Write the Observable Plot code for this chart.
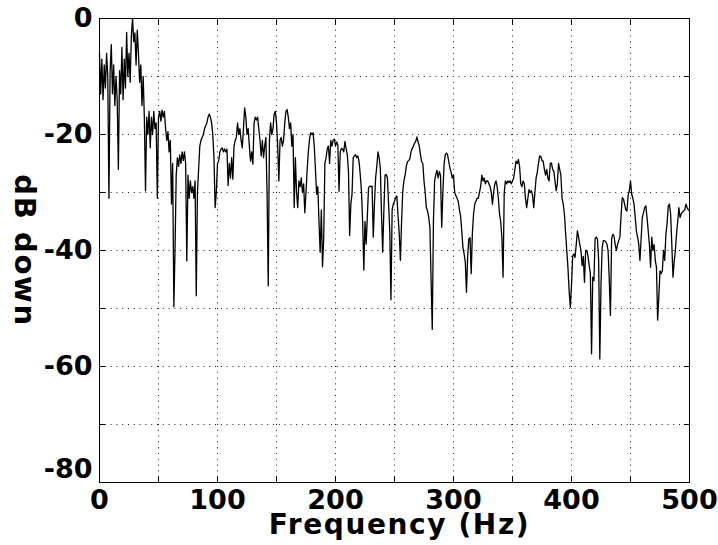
<!DOCTYPE html>
<html><head><meta charset="utf-8">
<script src="https://cdn.jsdelivr.net/npm/d3@7"></script>
<script src="https://cdn.jsdelivr.net/npm/@observablehq/plot@0.6"></script>
<style>
body{margin:0;background:#fff}
.axis-title text{letter-spacing:1.6px}
</style>
</head><body><div id="chart"></div>
<script>
// Spectrum sampled every 1 Hz from 0 to 500 Hz (values in dB)
const freqStepHz = 1;
const levelDb = [
  -6, -13, -7, -14, -8, -12, -6, -10, -31, -9,
  -4.5, -13, -8, -15, -10, -14, -26, -9, -13, -5,
  -14, -7, -12, -2.4, -10, -6, -11, -3, 0, -4,
  -2.5, -8, -2, -6, -11, -8, -15, -10, -17, -29.7,
  -17, -20, -16, -22.3, -17, -20, -16, -19, -18, -31,
  -17, -16, -17.7, -15.8, -17, -16, -19, -21, -19.5, -23,
  -21, -32, -25, -49.7, -40, -27, -24, -25.5, -23.5, -25,
  -23, -24.5, -23, -25, -41.8, -27, -31, -28, -30, -29,
  -31, -28, -47.8, -30, -26, -22, -21, -20.5, -20, -19,
  -18.5, -18, -17, -16.5, -17, -18, -20, -24, -32.6, -30,
  -25, -24.6, -23, -22.5, -22.3, -23, -22.5, -23, -22.5, -28.8,
  -25, -27.5, -24, -27.7, -22, -21, -20.5, -18, -20, -19,
  -21, -22.3, -19, -15.4, -17, -20, -19, -22, -24.6, -23,
  -25.1, -18, -17, -17.5, -17, -19, -21, -23.7, -21, -24,
  -22, -20.5, -30, -46.1, -21, -18, -20, -19, -16.5, -16,
  -18, -22, -28, -21, -20.5, -22, -21, -18, -16, -15.7,
  -17, -19, -18, -22, -20, -32.6, -24, -30, -32.6, -28,
  -29, -27.5, -30, -28.5, -33.5, -30, -26, -23, -20.8, -19.7,
  -20, -19.7, -22, -26, -30.3, -29, -35, -40.3, -33, -42.8,
  -38, -25, -24, -22.5, -22, -25, -21, -22, -21, -20.8,
  -22, -21.3, -21.8, -29.8, -23, -22.4, -22.5, -23, -21.2, -22.4,
  -23.5, -26.4, -37.4, -32, -30.3, -24, -23.7, -23.5, -24, -23.7,
  -24.7, -27, -29.8, -35, -43.4, -35, -38.9, -34, -29.2, -28.9,
  -29, -28.9, -37.7, -32, -27.5, -25.5, -23, -24, -25.8, -33.8,
  -40.3, -33, -27, -26.9, -27.5, -32, -36.6, -48.5, -33, -32,
  -31.5, -30.9, -30.6, -34, -37, -41.7, -35, -29.8, -28, -27,
  -25.5, -24.7, -24.5, -24.2, -23, -22.4, -22, -21.5, -21.2, -20.4,
  -21.3, -22, -23.5, -24.7, -25, -28, -30, -32.6, -33.2, -34.3,
  -36, -45, -53.6, -35, -28, -26.9, -26.2, -27.5, -26.4, -27,
  -36, -30, -25.2, -23.5, -23.2, -23.5, -24.7, -25.8, -26.5, -27.5,
  -27, -30, -30.5, -31, -31.5, -33, -34, -36.6, -39.5, -40.6,
  -42, -47.2, -41, -38, -37.8, -44, -37, -33.7, -32, -31.5,
  -31, -31, -30, -29, -27, -28, -27.5, -28.5, -28, -28,
  -28.5, -29, -30, -32, -30, -28.5, -28, -29, -31, -33.7,
  -35, -37.8, -44.6, -30, -28, -28.5, -28, -28.3, -28, -28.5,
  -28, -27.5, -26, -24.6, -25, -24.3, -25.5, -28.5, -29, -28,
  -28.5, -31, -32.6, -31, -29.5, -30, -29.7, -30.5, -32.6, -30,
  -27.5, -26.5, -25, -23.7, -23.8, -24.5, -24.6, -26, -27, -26,
  -27.5, -28, -25, -24.9, -26, -26.3, -28, -29.7, -28.5, -25,
  -26, -27, -31, -32, -33.7, -37, -40, -43, -47, -49.8,
  -46, -41, -40.6, -41.2, -39, -36.6, -37.7, -38.9, -40, -42.6,
  -41, -45.5, -40, -40, -41, -42.6, -44, -57.8, -44.6, -45.2,
  -38, -37.7, -38, -41.7, -58.7, -45.8, -39.5, -38.3, -38.3, -38.5,
  -38.9, -40, -45, -51.2, -38, -37.2, -37.5, -38.9, -40, -39,
  -38.3, -37.7, -34, -30.9, -31.1, -32, -33, -33.2, -30.5, -29.7,
  -28, -30.3, -31, -32, -34.3, -36.6, -37.7, -38.9, -41.7, -38,
  -34.3, -33.5, -32.6, -32.3, -34.3, -36.6, -38.9, -42.9, -37.7, -40,
  -39, -41.7, -42.9, -52, -48, -43.5, -44, -43.5, -40, -41.7,
  -37.2, -35.4, -32.3, -32, -33.7, -38.9, -44.6, -42, -40, -37.2,
  -35, -32.6, -34.3, -33.7, -33.4, -33.2, -33, -32, -32.6, -33,
  -33.2
];

const xTickLabels = [0, 100, 200, 300, 400, 500];
const xGridTicks = [0, 50, 100, 150, 200, 250, 300, 350, 400, 450, 500];
const yTickLabels = [0, -20, -40, -60, -80];
const yGridTicks = [0, -10, -20, -30, -40, -50, -60, -70, -80];
const xTitle = "Frequency (Hz)";
const yTitle = "dB down";

const data = levelDb.map((v, i) => ({f: i * freqStepHz, db: v}));

const gridStyle = {stroke: "#222", strokeOpacity: 1, strokeWidth: 1, strokeDasharray: "1,4.8"};
const tickStyle = {stroke: "#000", tickFormat: () => ""};
const labelFont = {fontSize: 27, fontWeight: "bold", fill: "#000"};

const chart = Plot.plot({
  width: 718,
  height: 545,
  marginLeft: 99,
  marginRight: 29,
  marginTop: 18,
  marginBottom: 63,
  x: {domain: [0, 500]},
  y: {domain: [-80, 0]},
  style: {fontFamily: "'DejaVu Sans', sans-serif", fontWeight: "bold", fontSize: "27px", background: "#fff", color: "#000"},
  marks: [
    Plot.gridX(xGridTicks.slice(1, -1), gridStyle),
    Plot.gridY(yGridTicks.slice(1, -1), gridStyle),
    Plot.line(data, {x: "f", y: "db", stroke: "#000", strokeWidth: 1.3}),
    Plot.frame({stroke: "#000", strokeWidth: 1}),
    // inward tick marks on all four sides
    Plot.axisX(xGridTicks, {...tickStyle, anchor: "bottom", tickSize: 6, dy: -6, label: null}),
    Plot.axisX(xGridTicks, {...tickStyle, anchor: "top", tickSize: 6, dy: 6, label: null}),
    Plot.axisY(yGridTicks, {...tickStyle, anchor: "left", tickSize: 6, dx: 6, label: null}),
    Plot.axisY(yGridTicks, {...tickStyle, anchor: "right", tickSize: 6, dx: -6, label: null}),
    // tick labels
    Plot.axisX(xTickLabels, {anchor: "bottom", tickSize: 0, tickPadding: 7, tickFormat: d => String(d), label: null, ...labelFont}),
    Plot.axisY(yTickLabels.filter(d => d !== -80), {anchor: "left", tickSize: 0, tickPadding: 7, tickFormat: d => String(d), label: null, ...labelFont}),
    Plot.axisY(yTickLabels.filter(d => d === -80), {anchor: "left", tickSize: 0, tickPadding: 7, dy: -13, tickFormat: d => String(d), label: null, ...labelFont}),
    // axis titles
    Plot.text([xTitle], {frameAnchor: "bottom", dy: 32, dx: 5, textAnchor: "middle", lineAnchor: "top", fontSize: 28, fontWeight: "bold", fill: "#000", className: "axis-title"}),
    Plot.text([yTitle], {frameAnchor: "left", dx: -75, rotate: 90, textAnchor: "middle", lineAnchor: "middle", fontSize: 29, fontWeight: "bold", fill: "#000", className: "axis-title"})
  ]
});
document.getElementById("chart").appendChild(chart);
</script>
</body></html>
